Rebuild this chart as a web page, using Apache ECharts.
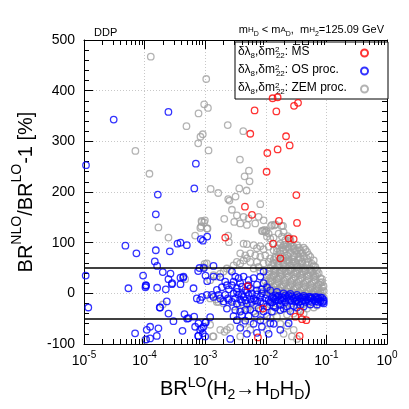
<!DOCTYPE html>
<html><head><meta charset="utf-8">
<script src="https://cdn.jsdelivr.net/npm/echarts@6/dist/echarts.min.js"></script>
<style>html,body{margin:0;padding:0;background:#fff}#c{width:409px;height:409px}</style>
</head><body><div id="c"></div>
<script>
// values: [log10(BR^LO), BR^NLO/BR^LO - 1 in %]
var msPoints = [[-1.888,385],[-1.805,387],[-1.468,376],[-1.534,370],[-2.185,361],[-1.826,359],[-2.256,315],[-1.666,310],[-1.606,292],[-1.805,284],[-1.975,277],[-1.987,240],[-1.496,194],[-2.344,171],[-2.228,155],[-1.783,143],[-1.485,139],[-2.669,110],[-1.540,107],[-1.623,108],[-1.880,98],[-1.760,69],[-2.300,14],[-2.047,-30],[-1.430,-36],[-1.513,-46],[-1.402,-51],[-1.331,-53],[-2.130,-87],[-1.441,-84]];

var osPoints = [[-4.510,343],[-3.607,358],[-4.967,253],[-3.154,256],[-3.180,207],[-3.782,195],[-3.815,156],
[-4.317,94],[-4.135,79],[-3.815,85],[-3.584,83],[-3.457,98],[-3.408,100],[-3.303,95],[-3.072,107],[-3.038,104],[-2.967,112],
[-3.832,63],[-3.793,54],[-3.700,42],[-3.573,39],[-4.025,35],[-4.972,35],[-3.606,28],[-3.545,20],[-3.408,31],[-3.364,31],[-3.408,18],[-3.975,15],[-3.986,12],[-4.267,10],[-3.793,11],[-3.650,8],[-3.116,44],[-3.094,50],[-2.995,35],[-2.967,24],[-2.863,33],[-3.022,50],[-2.863,54],[-3.193,10],[-3.358,33],[-3.551,18],[-3.981,16],
[-2.752,32],[-2.670,23],[-2.642,16],[-2.725,12],[-2.609,8],
[-2.973,-3],[-2.890,-3],[-2.863,-7],[-3.055,-7],[-3.083,-13],[-3.138,-10],[-2.780,-3],[-2.752,-10],[-2.670,-3],[-2.626,-10],[-2.697,-16],[-2.807,7],[-2.615,-13],[-2.642,-30],
[-3.634,-16],[-3.744,-28],[-3.606,-40],[-3.342,-41],[-3.276,-49],[-3.524,-55],[-2.918,-47],[-3.111,-59],[-3.000,-58],[-3.166,-66],[-3.055,-69],[-3.039,-79],[-3.000,-85],[-3.111,-84],[-3.375,-74],[-3.772,-69],[-3.909,-66],[-3.965,-72],[-4.157,-79],[-3.909,-89],[-3.799,-84],[-4.929,-28],[-3.750,-28],[-3.298,-50],[-3.182,-46],[-2.989,-57],[-3.083,-72],[-3.028,-66],[-3.116,-84],[-3.975,-91],
[-2.559,43],[-2.504,33],[-2.532,23],[-2.449,30],[-2.367,33],[-2.284,26],[-2.201,30],[-2.091,33],[-2.036,43],[-2.036,20],[-2.559,16],[-2.477,10],[-2.394,13],[-2.339,6],[-2.256,10],[-2.146,6],[-2.064,8],[-2.532,0],[-2.449,-3],[-2.367,-7],[-2.284,-3],[-2.201,-10],[-2.091,-7],[-1.981,-3],[-2.559,-17],[-2.477,-20],[-2.394,-17],[-2.312,-20],[-2.229,-17],[-2.146,-15],[-2.036,-20],[-1.926,-17],[-1.871,-10],[-1.816,-7],[-1.761,-13],[-1.706,-10],[-1.650,-7],[-1.595,-13],[-1.540,-10],[-1.485,-13],[-1.430,-10],[-1.375,-13],[-1.320,-12],[-1.265,-10],[-1.209,-13],[-1.154,-12],[-1.099,-15],[-1.044,-13],[-1.926,6],[-1.816,3],[-1.706,0],[-1.595,-1],[-1.485,-3],[-1.375,-5],[-1.265,-7],[-1.154,-8],[-2.504,-33],[-2.422,-36],[-2.339,-33],[-2.256,-32],[-2.119,-30],[-1.981,-26],[-1.871,-25],[-1.761,-23],[-1.650,-26],[-1.540,-25],[-1.430,-23],[-1.761,-33],[-1.898,-36],[-2.477,-53],[-2.339,-54],[-2.091,-53],[-1.926,-59],[-1.871,-60],[-1.623,-59],[-1.761,-72],
[-1.898,-8],[-1.843,-12],[-1.788,-5],[-1.733,-15],[-1.678,-4],[-1.623,-11],[-1.568,-6],[-1.513,-16],[-1.457,-7],[-1.402,-16],[-1.347,-8],[-1.292,-15],[-1.237,-9],[-1.182,-16],[-1.127,-10],[-1.072,-18],[-1.099,-8],[-1.044,-20],
[-2.504,-10],[-2.422,-12],[-2.339,-14],[-2.256,-12],[-2.174,-14],[-2.091,-16],[-2.009,-10],[-1.953,-13],[-1.898,-18],[-1.843,-4],[-1.788,-14],[-1.733,-8],[-1.678,-17],[-1.623,-4],[-1.568,-15],[-1.513,-8],[-1.457,-17],[-1.402,-8],[-1.347,-17],[-1.292,-7],[-1.237,-17],[-1.182,-7],[-1.127,-17],[-1.072,-9],[-1.047,-16],
[-2.477,3],[-2.394,-2],[-2.312,2],[-2.229,0],[-2.146,-2],[-2.064,0],[-2.146,17],[-2.284,16],[-2.422,20],[-1.981,12],
[-2.532,-45],[-2.394,-43],[-2.284,-45],[-2.174,-40],[-2.036,-36],[-1.981,-45],[-1.843,-28],[-1.706,-30],[-1.595,-35],[-1.485,-28],[-1.375,-26],[-1.265,-22],[-1.154,-22],
[-2.064,-66],[-2.201,-60],[-2.422,-68],[-2.312,-80],[-2.146,-78],[-1.953,-80],[-2.587,-90]];

var zemPoints = [[-3.898,467],[-2.983,423],[-3.017,373],[-2.955,366],[-3.110,355],[-3.309,330],[-3.040,314],[-3.078,309],[-3.116,296],[-2.945,282],[-2.628,332],[-4.152,281],[-3.920,236],[-2.372,320],[-2.427,264],[-2.278,242],[-2.350,231],[-2.268,221],[-2.438,207],[-2.317,203],[-2.910,206],[-2.785,198],[-2.620,186],[-2.499,191],
[-2.559,165],[-2.477,154],[-2.367,151],[-2.284,148],[-2.521,141],[-2.422,138],[-2.312,135],[-2.174,138],[-2.091,176],[-2.119,151],[-2.036,144],[-1.898,135],[-1.843,136],[-2.064,123],[-2.009,121],[-1.953,118],[-1.981,112],[-1.926,108],[-1.871,110],[-1.788,118],[-1.706,121],[-1.733,112],[-1.678,105],[-1.595,105],[-2.367,98],[-2.312,97],[-2.201,95],[-2.091,93],[-2.146,89],[-2.036,87],[-1.953,92],[-1.871,85],[-1.816,89],[-1.761,84],[-1.678,87],[-1.623,91],[-1.540,92],[-1.485,85],[-1.430,79],[-2.422,79],[-2.339,75],[-2.256,79],[-2.174,75],[-2.091,72],[-2.009,75],[-1.926,69],[-1.843,72],[-1.706,69],[-1.623,72],[-1.540,75],[-1.457,72],[-1.402,59],[-2.256,62],[-2.146,62],[-2.036,59],[-1.953,62],[-1.871,59],[-1.788,58],[-1.706,60],[-1.623,66],[-1.568,59],[-1.485,56],[-1.347,46],[-1.265,46],[-1.209,39],[-1.402,43],[-1.485,39],[-1.595,46],[-1.678,43],[-1.761,39],[-1.843,43],[-2.119,52],[-2.201,49],[-2.091,43],[-1.953,43],[-1.871,34],
[-3.061,143],[-3.005,144],[-2.972,128],[-3.080,129],[-2.620,114],[-2.610,101],[-2.686,147],[-2.600,183],[-1.915,133],[-1.860,134],[-1.716,133],[-1.740,133],[-1.640,113],[-1.607,109],[-2.050,123],[-2.025,125],[-1.990,123],
[-3.772,130],[-3.606,110],[-3.166,114],[-3.066,132],[-3.017,140],[-2.962,128],[-3.055,141],[-3.010,58],[-2.874,-85],[-2.681,-76],[-2.819,-12],[-2.780,-17],
[-3.331,28],[-3.700,-22],[-2.918,-10],[-2.808,-17],[-2.697,-20],[-2.642,-72],[-2.863,-85],[-3.992,-92],
[-2.973,59],[-3.028,52],[-2.918,26],[-2.863,36],[-2.808,33],[-2.752,39],[-2.697,43],[-2.642,49],[-2.587,46],[-2.532,55],[-2.477,62],[-2.422,59],[-2.367,65],[-2.312,69],
[-1.761,98],[-1.706,95],[-1.650,92],[-1.595,98],[-1.540,88],[-1.485,95],[-1.430,85],[-1.375,90],[-1.320,82],
[-1.816,82],[-1.761,78],[-1.706,85],[-1.650,75],[-1.595,80],[-1.540,72],[-1.485,78],[-1.430,70],[-1.375,74],[-1.320,68],[-1.265,72],[-1.209,65],
[-1.871,66],[-1.816,62],[-1.761,68],[-1.706,58],[-1.650,64],[-1.595,55],[-1.540,62],[-1.485,52],[-1.430,58],[-1.375,50],[-1.320,56],[-1.265,48],[-1.209,54],[-1.154,46],
[-1.926,50],[-1.871,45],[-1.816,52],[-1.761,42],[-1.706,48],[-1.650,40],[-1.595,46],[-1.540,38],[-1.485,44],[-1.430,36],[-1.375,42],[-1.320,34],[-1.265,40],[-1.209,32],[-1.154,38],[-1.099,30],
[-1.981,35],[-1.926,30],[-1.871,36],[-1.816,28],[-1.761,33],[-1.706,25],[-1.650,31],[-1.595,23],[-1.540,29],[-1.485,21],[-1.430,27],[-1.375,19],[-1.320,25],[-1.265,17],[-1.209,23],[-1.154,15],[-1.099,21],[-1.072,12],
[-2.036,20],[-1.981,16],[-1.926,22],[-1.871,14],[-1.816,19],[-1.761,12],[-1.706,17],[-1.650,10],[-1.595,15],[-1.540,8],[-1.485,13],[-1.430,6],[-1.375,11],[-1.320,4],[-1.265,9],[-1.209,3],[-1.154,7],[-1.099,2],[-1.044,5],
[-2.091,8],[-2.036,4],[-1.981,9],[-1.926,2],[-1.871,6],[-1.816,0],[-1.761,5],[-1.706,-2],[-1.650,3],[-1.595,-3],[-1.540,1],[-1.485,-4],[-1.430,0],[-1.375,-5],[-1.320,-1],[-1.265,-6],[-1.209,-2],[-1.154,-7],[-1.099,-3],[-1.044,-8],
[-2.532,-26],[-2.422,-33],[-2.312,-30],[-2.201,-36],[-2.091,-33],[-1.981,-26],[-1.871,-36],[-1.761,-33],[-1.650,-30],[-1.540,-40],[-1.816,-46],[-1.926,-49],[-2.036,-53],[-2.146,-46],[-2.256,-56],[-2.367,-60],[-2.477,-53],[-2.587,-67],[-1.761,-60],[-1.650,-64],[-1.540,-72],[-1.568,-85],[-1.485,-90],[-1.706,-80],[-1.981,-72],[-2.256,-72],[-2.422,-85],[-2.752,-72],[-2.919,-62],
[-1.788,95],[-1.733,90],[-1.678,96],[-1.623,88],[-1.568,93],[-1.513,84],[-1.457,90],[-1.402,80],[-1.347,86],[-1.292,76],
[-1.843,70],[-1.788,74],[-1.733,66],[-1.678,70],[-1.623,62],[-1.568,67],[-1.513,60],[-1.457,65],[-1.402,63],[-1.347,60],[-1.292,62],[-1.237,58],[-1.182,52],
[-1.898,56],[-1.843,48],[-1.788,55],[-1.733,45],[-1.678,52],[-1.623,44],[-1.568,50],[-1.513,42],[-1.457,48],[-1.402,38],[-1.347,44],[-1.292,36],[-1.237,42],[-1.182,34],[-1.127,40],[-1.072,28],
[-1.953,38],[-1.898,32],[-1.843,38],[-1.788,30],[-1.733,36],[-1.678,27],[-1.623,34],[-1.568,26],[-1.513,32],[-1.457,24],[-1.402,30],[-1.347,22],[-1.292,28],[-1.237,20],[-1.182,26],[-1.127,18],[-1.072,22],
[-2.009,24],[-1.953,18],[-1.898,24],[-1.843,16],[-1.788,22],[-1.733,14],[-1.678,20],[-1.623,12],[-1.568,18],[-1.513,10],[-1.457,16],[-1.402,8],[-1.347,14],[-1.292,6],[-1.237,12],[-1.182,5],[-1.127,10],[-1.072,4],[-1.047,14],
[-1.953,4],[-1.898,8],[-1.843,2],[-1.788,7],[-1.733,0],[-1.678,5],[-1.623,-2],[-1.568,3],[-1.513,-4],[-1.457,2],[-1.402,-3],[-1.347,1],[-1.292,-4],[-1.237,0],[-1.182,-5],[-1.127,-1],[-1.072,-6],
[-1.926,-22],[-1.816,-20],[-1.706,-22],[-1.595,-20],[-1.485,-22],[-1.375,-21],[-1.265,-22],[-1.154,-24],[-1.320,-30],[-1.430,-33],[-1.209,-28],[-1.650,-42],[-1.375,-40],[-2.146,-23],[-2.256,-22],[-2.367,-24]];

var xTickExponents = ['-5','-4','-3','-2','-1','0'];
var minorMultipliers = [2, 3, 4, 5, 6, 7, 8, 9];
var decadeStarts = [1e-5, 1e-4, 1e-3, 1e-2, 1e-1];
var yTicks = [-100, 0, 100, 200, 300, 400, 500];
var refLines = [50, -50];

var FONT = 'Liberation Sans, Arial, sans-serif';
function toXY(p) { return [Math.pow(10, p[0]), p[1]]; }

var chart = echarts.init(document.getElementById('c'), null, {renderer: 'canvas'});

function seriesOf(name, pts, color, z) {
  return {
    name: name, type: 'scatter', data: pts.map(toXY), z: z,
    symbol: 'circle', symbolSize: 6.5,
    itemStyle: {color: 'rgba(0,0,0,0)', borderColor: color, borderWidth: 1.3},
    emphasis: {disabled: true}, silent: true, animation: false
  };
}

var zem = seriesOf('ZEM', zemPoints, '#a0a0a0', 2);
var os = seriesOf('OS', osPoints, '#0000ff', 3);
var ms = seriesOf('MS', msPoints, '#ff0000', 4);
ms.markLine = {
  silent: true, symbol: ['none', 'none'], label: {show: false},
  lineStyle: {color: '#000', width: 1.5, type: 'solid'},
  data: refLines.map(function (v) { return {yAxis: v}; }),
  animation: false
};

// minor log ticks (2..9 x 10^n) on bottom and top frame, positioned by the x axis scale
var minorTickData = [];
decadeStarts.forEach(function (d) { minorMultipliers.forEach(function (m) { minorTickData.push([m * d, yTicks[0]]); }); });
var minorTicks = {
  type: 'custom', name: 'minorTicks', silent: true, z: 10, animation: false,
  data: minorTickData, encode: {x: 0, y: 1}, clip: false,
  renderItem: function (params, api) {
    var cs = params.coordSys;
    var x = Math.round(api.coord([api.value(0), api.value(1)])[0]) + 0.5;
    var yb = cs.y + cs.height, yt = cs.y;
    return {type: 'group', children: [
      {type: 'line', shape: {x1: x, y1: yb, x2: x, y2: yb - 5}, style: {stroke: '#000', lineWidth: 1}},
      {type: 'line', shape: {x1: x, y1: yt, x2: x, y2: yt + 5}, style: {stroke: '#000', lineWidth: 1}}
    ]};
  }
};

var xLabelRich = {
  b: {fontSize: 14, fontFamily: FONT, color: '#000', lineHeight: 18, verticalAlign: 'bottom'},
  s: {fontSize: 10, fontFamily: FONT, color: '#000', verticalAlign: 'top', lineHeight: 10}
};

var legendRich = {
  t: {fontSize: 12, fontFamily: FONT, color: '#000', lineHeight: 14, verticalAlign: 'top', align: 'left'},
  sb: {fontSize: 8, fontFamily: FONT, color: '#000', lineHeight: 8, verticalAlign: 'bottom', align: 'left'},
  sp: {fontSize: 8, fontFamily: FONT, color: '#000', lineHeight: 8, verticalAlign: 'top', width: 1, align: 'left'}
};
var legendLabels = {
  MS: '{t|δλ}{sb|8}{t|,δm}{sp|2}{sb|22}{t|: M\u0305S\u0305}',
  OS: '{t|δλ}{sb|8}{t|,δm}{sp|2}{sb|22}{t|: OS proc.}',
  ZEM: '{t|δλ}{sb|8}{t|,δm}{sp|2}{sb|22}{t|: ZEM proc.}'
};

var option = {
  backgroundColor: '#fff',
  animation: false,
  textStyle: {fontFamily: FONT},
  title: [
    {text: 'DDP', left: 89, top: 22, textStyle: {fontSize: 11, fontWeight: 'normal', fontFamily: FONT, color: '#000'}},
    {text: '{t|m}{a|H}{b|D}{t| < m}{a|A}{b|D}{t|,  m}{a|H}{b|2}{t|=125.09 GeV}', right: 20, top: 19,
     textStyle: {fontWeight: 'normal', rich: {
       t: {fontSize: 11, fontWeight: 'normal', fontFamily: FONT, color: '#000', lineHeight: 14, verticalAlign: 'top'},
       a: {fontSize: 8, fontWeight: 'normal', fontFamily: FONT, color: '#000', lineHeight: 10, verticalAlign: 'bottom', padding: [0, 0, 4, 0]},
       b: {fontSize: 7, fontWeight: 'normal', fontFamily: FONT, color: '#000', lineHeight: 8, verticalAlign: 'bottom'}
     }}}
  ],
  legend: {
    data: ['MS', 'OS', 'ZEM'],
    orient: 'vertical', left: 235, top: 42, align: 'right',
    backgroundColor: '#fff', borderColor: '#000', borderWidth: 1,
    padding: [4, 19, 3, 3], itemGap: 4, itemWidth: 7, itemHeight: 7,
    selectedMode: false,
    formatter: function (n) { return legendLabels[n]; },
    textStyle: {width: 118, align: 'left', rich: legendRich}
  },
  grid: {left: 84, right: 22, top: 40, bottom: 65, containLabel: false},
  xAxis: [{
    type: 'log', logBase: 10, min: 1e-5, max: 1,
    name: '{t|BR}{p|LO}{t|(H}{s|2}{t|→H}{s|D}{t|H}{s|D}{t|)}',
    nameLocation: 'middle', nameGap: 32,
    nameTextStyle: {rich: {
      t: {fontSize: 20, fontFamily: FONT, color: '#000', lineHeight: 26, verticalAlign: 'middle'},
      p: {fontSize: 14, fontFamily: FONT, color: '#000', lineHeight: 14, verticalAlign: 'top'},
      s: {fontSize: 14, fontFamily: FONT, color: '#000', lineHeight: 14, verticalAlign: 'bottom'}
    }},
    axisLine: {show: true, onZero: false, lineStyle: {color: '#000', width: 1}},
    axisTick: {show: true, inside: true, length: 9, lineStyle: {color: '#000'}},
    axisLabel: {margin: 6, formatter: function (v) {
      var e = Math.round(Math.log10(v));
      return '{b|10}{s|' + xTickExponents[e + 5] + '}';
    }, rich: xLabelRich},
    splitLine: {show: true, lineStyle: {color: '#c8c8c8', type: [1, 2], width: 1}}
  }, {
    type: 'log', logBase: 10, min: 1e-5, max: 1, position: 'top',
    axisLine: {show: true, onZero: false, lineStyle: {color: '#000', width: 1}},
    axisTick: {show: true, inside: true, length: 9, lineStyle: {color: '#000'}},
    axisLabel: {show: false}, splitLine: {show: false}
  }],
  yAxis: [{
    type: 'value', min: yTicks[0], max: yTicks[yTicks.length - 1], interval: 100,
    name: '{t|BR}{p|NLO}{t|/BR}{p|LO}{t|-1 [%]}',
    nameLocation: 'middle', nameGap: 46, nameRotate: 90,
    nameTextStyle: {rich: {
      t: {fontSize: 20, fontFamily: FONT, color: '#000', lineHeight: 26, verticalAlign: 'bottom'},
      p: {fontSize: 14, fontFamily: FONT, color: '#000', lineHeight: 14, verticalAlign: 'top'}
    }},
    axisLine: {show: true, onZero: false, lineStyle: {color: '#000', width: 1}},
    axisTick: {show: true, inside: true, length: 9, lineStyle: {color: '#000'}},
    minorTick: {show: true, splitNumber: 5, length: 5, lineStyle: {color: '#000'}},
    axisLabel: {fontSize: 14, color: '#000', fontFamily: FONT, margin: 9},
    splitLine: {show: true, lineStyle: {color: '#c8c8c8', type: [1, 2], width: 1}}
  }, {
    type: 'value', min: yTicks[0], max: yTicks[yTicks.length - 1], interval: 100, position: 'right',
    axisLine: {show: true, onZero: false, lineStyle: {color: '#000', width: 1}},
    axisTick: {show: true, inside: true, length: 9, lineStyle: {color: '#000'}},
    minorTick: {show: true, splitNumber: 5, length: 5, lineStyle: {color: '#000'}},
    axisLabel: {show: false}, splitLine: {show: false}
  }],
  series: [zem, os, ms, minorTicks]
};
chart.setOption(option);
</script></body></html>
